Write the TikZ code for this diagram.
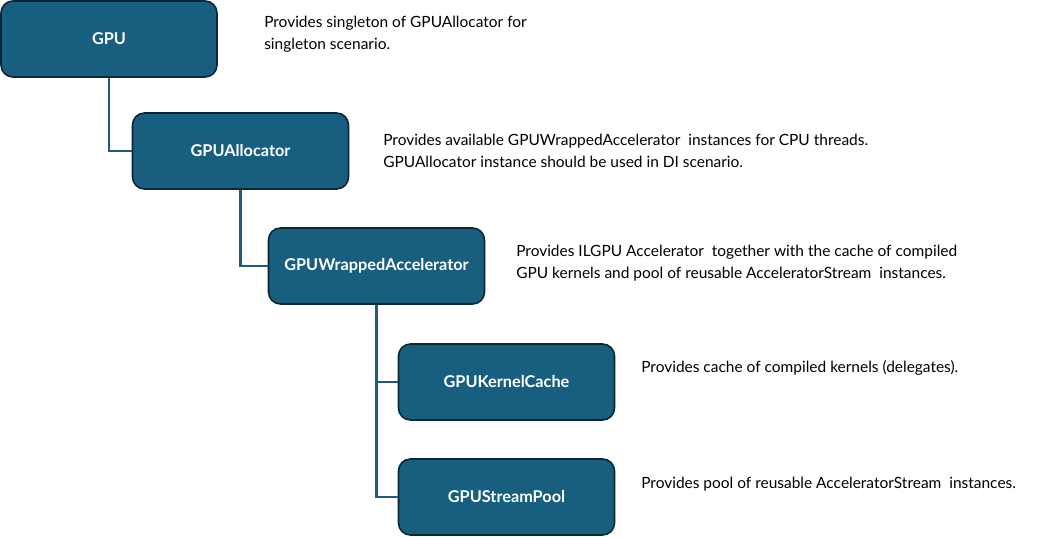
\documentclass[tikz,border=0pt]{standalone}
\usepackage{fontspec}
\setmainfont{Lato}
\definecolor{boxfill}{RGB}{23,94,127}
\definecolor{boxline}{RGB}{12,38,54}
\definecolor{wireline}{RGB}{30,92,122}
\tikzset{
	classbox/.style={draw=boxline, line width=1.2pt, fill=boxfill, rounded corners=9pt, minimum width=162pt, minimum height=57pt, text=white, font=\fontsize{12.2}{14}\selectfont\bfseries, inner sep=0pt},
	notetext/.style={anchor=west, align=left, font=\fontsize{11.6}{16.5}\selectfont, inner sep=0pt},
	wire/.style={draw=wireline, line width=1.6pt}
}
\begin{document}
\begin{tikzpicture}[x=0.75pt, y=-0.75pt]
	\useasboundingbox (0,0) rectangle (1037,536);
	\node[classbox] (gpu) at (109, 39) {GPU};
	\node[classbox] (alloc) at (240.5, 151) {GPUAllocator};
	\node[classbox] (wrap) at (376.5, 266) {GPUWrappedAccelerator};
	\node[classbox] (kcache) at (506.5, 382) {GPUKernelCache};
	\node[classbox] (spool) at (506.5, 497) {GPUStreamPool};
	\draw[wire] (gpu.south) |- (alloc.west);
	\draw[wire] (alloc.south) |- (wrap.west);
	\draw[wire] (wrap.south) |- (kcache.west);
	\draw[wire] (wrap.south) |- (spool.west);
	\node[notetext] (gpunote) at (264, 34) {Provides singleton of GPUAllocator for\\singleton scenario.};
	\node[notetext] (allocnote) at (383, 151) {Provides available GPUWrappedAccelerator\ \ instances for CPU threads.\\GPUAllocator instance should be used in DI scenario.};
	\node[notetext] (wrapnote) at (516, 263) {Provides ILGPU Accelerator\ \ together with the cache of compiled\\GPU kernels and pool of reusable AcceleratorStream\ \ instances.};
	\node[notetext] (kcachenote) at (641, 368) {Provides cache of compiled kernels (delegates).};
	\node[notetext] (spoolnote) at (641, 484) {Provides pool of reusable AcceleratorStream\ \ instances.};
\end{tikzpicture}
\end{document}
